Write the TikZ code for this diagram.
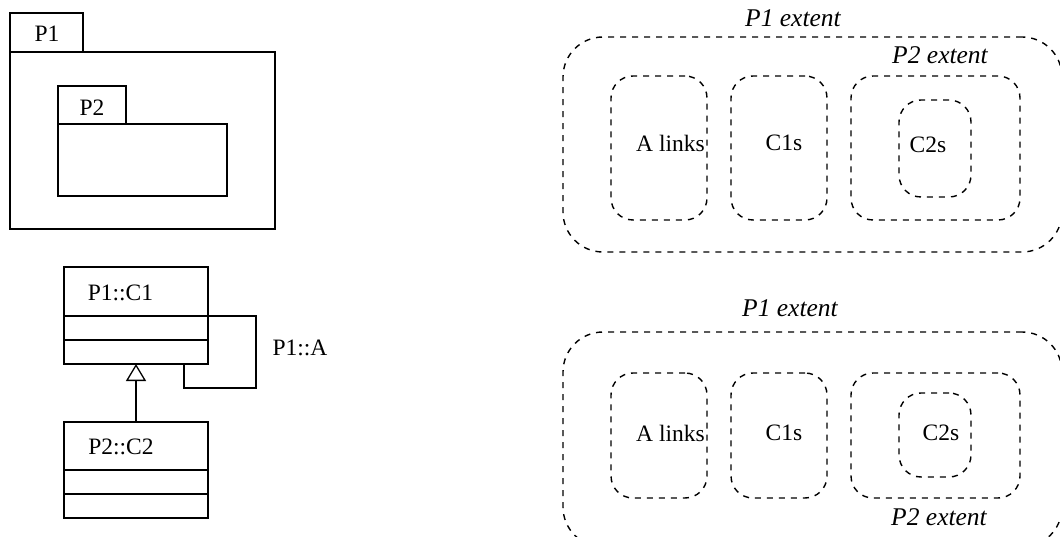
\documentclass[tikz,border=0pt]{standalone}
\usepackage{fontspec}
\setmainfont{Liberation Serif}
\usetikzlibrary{arrows.meta,calc}
\begin{document}
\begin{tikzpicture}[x=1pt,y=-1pt,
  solid box/.style={draw, line width=1.8pt, inner sep=0pt, outer sep=0pt, anchor=north west},
  conn/.style={draw, line width=1.8pt},
  ext/.style={draw, dash pattern=on 6pt off 6pt, line width=1.4pt, inner sep=0pt, outer sep=0pt, anchor=north west, rounded corners=22pt},
  bigext/.style={ext, rounded corners=40pt},
  lbl/.style={font=\fontsize{23.5}{28}\selectfont, inner sep=0pt},
  itl/.style={font=\fontsize{25.5}{30}\selectfont\itshape, inner sep=0pt}]
\useasboundingbox (0,0) rectangle (1060,537);
\clip (0,0) rectangle (1060,537);
% packages
\node[solid box, minimum width=73pt, minimum height=39pt] (p1tab) at (10,13) {};
\node[solid box, minimum width=265pt, minimum height=177pt] (p1body) at (10,52) {};
\node[solid box, minimum width=68pt, minimum height=38pt] (p2tab) at (58,86) {};
\node[solid box, minimum width=169pt, minimum height=72pt] (p2body) at (58,124) {};
\node[lbl] (p1lbl) at (47,34) {P1};
\node[lbl] (p2lbl) at (92,108) {P2};
% classes
\node[solid box, minimum width=144pt, minimum height=97pt] (c1) at (64,267) {};
\draw[conn] ($(c1.north west)+(0,49)$) -- ($(c1.north east)+(0,49)$);
\draw[conn] ($(c1.north west)+(0,73)$) -- ($(c1.north east)+(0,73)$);
\node[lbl] (c1lbl) at (120.5,292.5) {P1::C1};
\node[solid box, minimum width=144pt, minimum height=96pt] (c2) at (64,422) {};
\draw[conn] ($(c2.north west)+(0,48)$) -- ($(c2.north east)+(0,48)$);
\draw[conn] ($(c2.north west)+(0,72)$) -- ($(c2.north east)+(0,72)$);
\node[lbl] (c2lbl) at (121,447) {P2::C2};
% self association
\coordinate (la) at ($(c1.north east)+(0,49)$);
\coordinate (lb) at (256,316);
\coordinate (lc) at (256,388);
\coordinate (ld) at (184,388);
\coordinate (le) at (184,364);
\draw[conn] (la) -- (lb) -- (lc) -- (ld) -- (le);
\node[lbl] (alabel) at (300,348) {P1::A};
% generalisation
\draw[conn, -{Triangle[open, length=17pt, width=20pt, line width=1.3pt]}] (c2.north) -- (c1.south);
% top extents
\node[bigext, minimum width=499pt, minimum height=215pt] (t-p1) at (563,37) {};
\node[itl] (t-p1l) at (793,18) {P1 extent};
\node[itl] (t-p2l) at (940,55) {P2 extent};
\node[ext, minimum width=96pt, minimum height=144pt] (t-a) at (611,76) {};
\node[ext, minimum width=96pt, minimum height=144pt] (t-c1) at (731,76) {};
\node[ext, minimum width=169pt, minimum height=144pt] (t-p2) at (851,76) {};
\node[ext, minimum width=72pt, minimum height=97pt] (t-c2) at (899,100) {};
\node[lbl] (t-al) at (670.5,143) {A links};
\node[lbl] (t-c1l) at (784,143) {C1s};
\node[lbl] (t-c2l) at (928,145) {C2s};
% bottom extents
\node[bigext, minimum width=499pt, minimum height=215pt] (b-p1) at (563,332) {};
\node[itl] (b-p1l) at (790,308) {P1 extent};
\node[itl] (b-p2l) at (939,517) {P2 extent};
\node[ext, minimum width=96pt, minimum height=125pt] (b-a) at (611,373) {};
\node[ext, minimum width=96pt, minimum height=125pt] (b-c1) at (731,373) {};
\node[ext, minimum width=169pt, minimum height=125pt] (b-p2) at (851,373) {};
\node[ext, minimum width=72pt, minimum height=84pt] (b-c2) at (899,393) {};
\node[lbl] (b-al) at (670.5,433) {A links};
\node[lbl] (b-c1l) at (784,433) {C1s};
\node[lbl] (b-c2l) at (941,433) {C2s};
\end{tikzpicture}
\end{document}
